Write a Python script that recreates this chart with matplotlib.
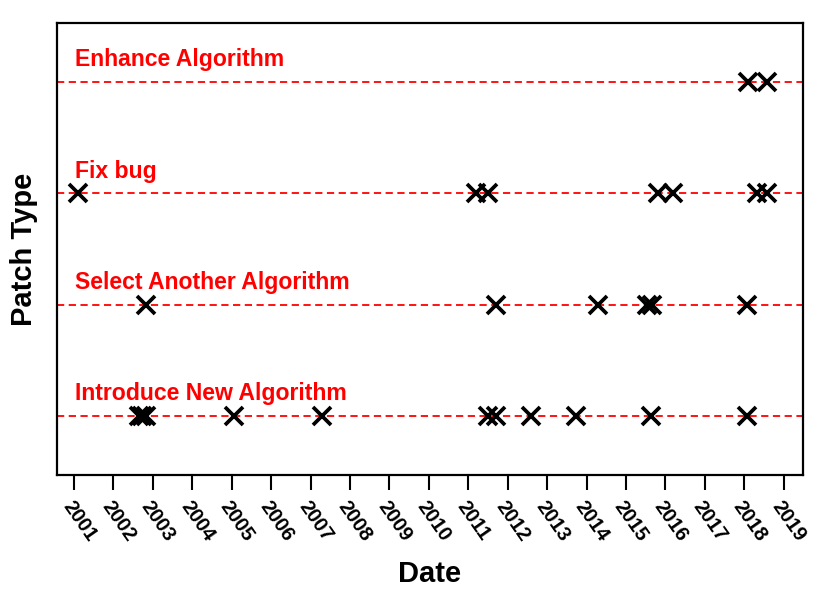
import numpy as np
import pandas as pd
import matplotlib
matplotlib.use("Agg")
import matplotlib.pyplot as plt
import matplotlib.dates as mdates

plt.rcParams['font.family'] = ['Liberation Sans', 'DejaVu Sans']

patch_types = ['Introduce New Algorithm', 'Select Another Algorithm', 'Fix bug', 'Enhance Algorithm']

introduce = ['2002-08-25', '2002-09-25', '2002-10-30', '2005-01-23', '2007-04-16',
             '2011-07-01', '2011-09-16', '2012-08-04', '2013-09-24', '2015-08-22',
             '2018-01-26']
select_other = ['2002-10-30', '2011-09-16', '2014-04-16', '2015-07-16', '2015-08-29',
                '2018-01-26']
fix_bug = ['2001-02-06', '2011-03-15', '2011-07-01', '2015-10-22', '2016-03-14',
           '2018-05-01', '2018-08-01']
enhance = ['2018-02-06', '2018-08-01']

dates_by_type = [introduce, select_other, fix_bug, enhance]
years = list(range(2001, 2020))

fig = plt.figure(figsize=(8.3, 5.95), dpi=100)
ax = fig.add_axes([0.0687, 0.2017, 0.8988, 0.7596])

xmin = pd.Timestamp('2000-07-27')
xmax = pd.Timestamp('2019-06-30')

for i, (name, ds) in enumerate(zip(patch_types, dates_by_type)):
    y = i + 1
    ax.plot([xmin, xmax], [y, y], color='red', ls=(0, (4, 2.5)), lw=1.3, zorder=1)
    ax.plot(pd.to_datetime(ds), [y] * len(ds), 'x', color='black',
            ms=13, mew=2.7, zorder=2)
    ax.text(pd.Timestamp('2001-01-10'), y + 0.2, name, color='red',
            fontsize=16.6, fontweight='bold', ha='left', va='center')

ax.set_xlim(xmin, xmax)
ax.set_ylim(0.47, 4.53)
ax.set_yticks([])

ax.set_xticks([pd.Timestamp(f'{y}-01-01') for y in years])
ax.set_xticklabels([str(y) for y in years], rotation=-55, ha='left', va='top',
                   rotation_mode='anchor', fontsize=14.5, fontweight='bold')
ax.tick_params(axis='x', direction='out', length=11, width=1.5, pad=5)

for s in ax.spines.values():
    s.set_linewidth(1.6)

ax.set_xlabel('Date', fontsize=21, fontweight='bold', labelpad=11)
ax.set_ylabel('Patch Type', fontsize=21, fontweight='bold', labelpad=14)

fig.savefig('out.png', dpi=100)
